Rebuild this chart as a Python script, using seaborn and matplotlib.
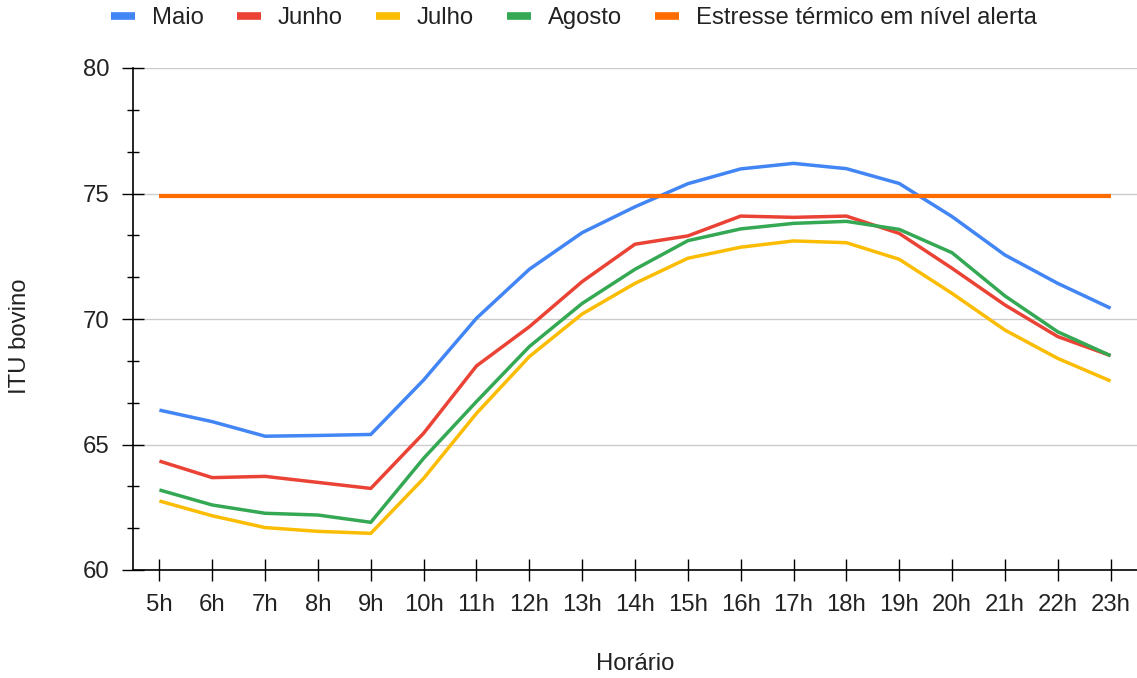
import matplotlib
matplotlib.use("Agg")
import matplotlib.pyplot as plt
from matplotlib.lines import Line2D
from matplotlib.ticker import MultipleLocator
import pandas as pd
import seaborn as sns

# Hourly mean cattle temperature-humidity index (ITU) per month
horas = ["5h", "6h", "7h", "8h", "9h", "10h", "11h", "12h", "13h", "14h",
         "15h", "16h", "17h", "18h", "19h", "20h", "21h", "22h", "23h"]
maio = [66.37, 65.91, 65.33, 65.36, 65.40, 67.57, 70.03, 71.98, 73.44, 74.47,
        75.39, 75.98, 76.20, 75.99, 75.40, 74.08, 72.55, 71.42, 70.43]
junho = [64.34, 63.68, 63.73, 63.49, 63.25, 65.45, 68.13, 69.69, 71.49, 72.98,
         73.31, 74.10, 74.05, 74.10, 73.41, 72.02, 70.56, 69.30, 68.54]
julho = [62.75, 62.16, 61.69, 61.54, 61.46, 63.65, 66.24, 68.50, 70.20, 71.42,
         72.42, 72.86, 73.11, 73.04, 72.38, 71.02, 69.56, 68.43, 67.53]
agosto = [63.19, 62.59, 62.26, 62.19, 61.90, 64.45, 66.71, 68.90, 70.62, 71.98,
          73.12, 73.59, 73.81, 73.89, 73.57, 72.64, 70.92, 69.49, 68.54]
alerta = 74.9  # alert level for heat stress

meses = ["Maio", "Junho", "Julho", "Agosto"]
rotulo_alerta = "Estresse térmico em nível alerta"
cores = {"Maio": "#4285F4", "Junho": "#EA4335", "Julho": "#FBBC04",
         "Agosto": "#34A853", rotulo_alerta: "#FF6D01"}

df = pd.DataFrame({
    "Horário": horas * 4,
    "ITU": maio + junho + julho + agosto,
    "Mês": [m for m in meses for _ in horas],
})
df_alerta = pd.DataFrame({"Horário": horas, "ITU": [alerta] * len(horas)})

sns.set_theme(style="white")
plt.rcParams["font.family"] = ["Liberation Sans", "DejaVu Sans"]
plt.rcParams["text.color"] = "#222222"

FS = 17.2

fig = plt.figure(figsize=(11.37, 6.78), dpi=100)
ax = fig.add_axes([133 / 1137, 1 - 570 / 678, 1004 / 1137, 502 / 678])

sns.lineplot(data=df, x="Horário", y="ITU", hue="Mês", hue_order=meses,
             palette=cores, linewidth=2.5, legend=False, ax=ax, sort=False)
sns.lineplot(data=df_alerta, x="Horário", y="ITU", color=cores[rotulo_alerta],
             linewidth=3.0, legend=False, ax=ax, sort=False)
for ln in ax.get_lines():
    ln.set_solid_capstyle("butt")
    ln.set_solid_joinstyle("round")

ax.set_xlim(-0.5, len(horas) - 0.5)
ax.set_ylim(60, 80)
ax.yaxis.set_major_locator(MultipleLocator(5))
ax.yaxis.set_minor_locator(MultipleLocator(5 / 3))
ax.grid(axis="y", which="major", color="#cccccc", linewidth=1.0)
ax.set_axisbelow(True)

for side in ("top", "right"):
    ax.spines[side].set_visible(False)
for side in ("left", "bottom"):
    ax.spines[side].set_color("black")
    ax.spines[side].set_linewidth(1.2)

ax.tick_params(axis="both", which="major", direction="inout", length=16.5,
               width=1.0, color="black", labelsize=FS, labelcolor="#222222",
               pad=9.0, left=True, bottom=True)
ax.tick_params(axis="y", which="minor", direction="inout", length=8,
               width=1.0, color="black", left=True)
ax.tick_params(axis="x", which="minor", bottom=False)

ax.set_xlabel("Horário", fontsize=FS, color="#222222")
ax.set_ylabel("ITU bovino", fontsize=FS, color="#222222")
ax.xaxis.set_label_coords(0.5, -(664 - 570) / 502, transform=ax.transAxes)
ax.xaxis.label.set_va("center")
ax.yaxis.set_label_coords(-(133 - 20) / 1004, (570 - 336) / 502)
ax.yaxis.label.set_va("center")

handles = [Line2D([0], [0], color=cores[k], linewidth=5.5,
                  solid_capstyle="butt")
           for k in meses + [rotulo_alerta]]
fig.legend(handles, meses + [rotulo_alerta], loc="center",
           bbox_to_anchor=(574 / 1137, 1 - 18 / 678), ncol=5, frameon=False,
           fontsize=FS, handlelength=1.0, handletextpad=0.71,
           columnspacing=1.38, borderaxespad=0, borderpad=0)

fig.savefig("out.png", dpi=100)
